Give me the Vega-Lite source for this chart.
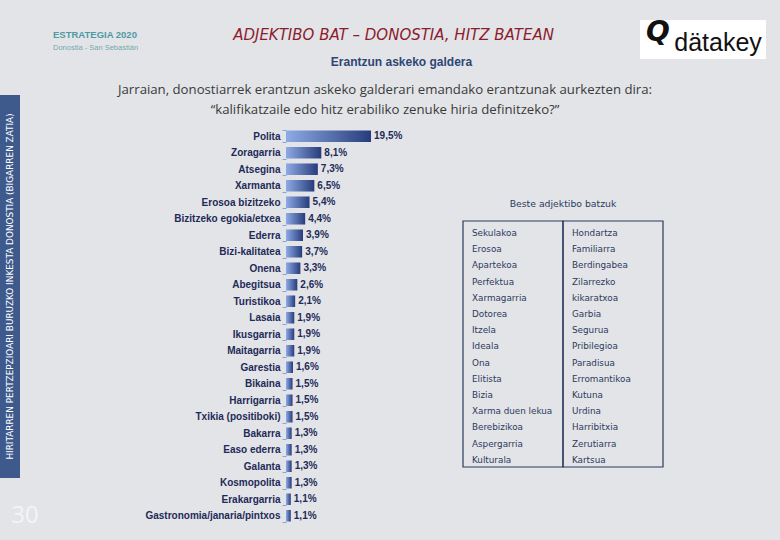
{
  "$schema": "https://vega.github.io/schema/vega-lite/v6.json",
  "background": "#e3e4e7",
  "padding": {"top": 18, "left": 0, "right": 17, "bottom": 16},
  "config": {
    "view": {"stroke": null},
    "locale": {"number": {"decimal": ",", "thousands": ".", "grouping": [3], "currency": ["", " €"]}}
  },
  "spacing": 2,
  "vconcat": [
    {
      "spacing": 0,
      "hconcat": [
        {
          "width": 106,
          "height": 37,
          "data": {"values": [
            {"part": "name", "text": "ESTRATEGIA 2020"},
            {"part": "place", "text": "Donostia - San Sebastián"}
          ]},
          "encoding": {
            "y": {"field": "part", "type": "nominal", "axis": null, "scale": {"domain": ["name", "place"], "padding": 1.556, "align": 0.625}},
            "text": {"field": "text"}
          },
          "layer": [
            {"transform": [{"filter": "datum.part === 'name'"}], "mark": {"type": "text", "align": "left", "font": "Liberation Sans", "fontSize": 9.5, "fontWeight": "bold", "color": "#4e9aa3"}},
            {"transform": [{"filter": "datum.part === 'place'"}], "mark": {"type": "text", "align": "left", "font": "Liberation Sans", "fontSize": 7.5, "color": "#74a9ae"}}
          ]
        },
        {
          "width": 501,
          "height": 50,
          "data": {"values": [
            {"part": "title", "text": "ADJEKTIBO BAT – DONOSTIA, HITZ BATEAN"},
            {"part": "subtitle", "text": "Erantzun askeko galdera"}
          ]},
          "encoding": {
            "y": {"field": "part", "type": "nominal", "axis": null, "scale": {"domain": ["title", "subtitle"], "padding": 0.426, "align": 0.652}},
            "text": {"field": "text"}
          },
          "layer": [
            {"transform": [{"filter": "datum.part === 'title'"}], "mark": {"type": "text", "font": "DejaVu Sans", "fontSize": 15, "fontStyle": "italic", "color": "#8c1c2e", "dx": 4}},
            {"transform": [{"filter": "datum.part === 'subtitle'"}], "mark": {"type": "text", "font": "Liberation Sans", "fontSize": 12, "fontWeight": "bold", "color": "#2e4676", "dx": 12}}
          ]
        },
        {
          "width": 126,
          "height": 39,
          "view": {"fill": "#ffffff", "stroke": null},
          "data": {"values": [
            {"part": "mark", "text": "Q"},
            {"part": "word", "text": "dätakey"}
          ]},
          "encoding": {
            "x": {"field": "part", "type": "nominal", "axis": null, "scale": {"domain": ["mark", "word"], "padding": 0.55, "align": 0.273}},
            "text": {"field": "text"}
          },
          "layer": [
            {"transform": [{"filter": "datum.part === 'mark'"}], "mark": {"type": "text", "font": "DejaVu Sans", "fontSize": 28, "fontWeight": "bold", "fontStyle": "italic", "color": "#111111", "dy": -7}},
            {"transform": [{"filter": "datum.part === 'word'"}], "mark": {"type": "text", "font": "Liberation Sans", "fontSize": 25, "color": "#111111", "dy": 3}}
          ]
        }
      ]
    },
    {
      "spacing": 67,
      "hconcat": [
        {
          "spacing": 2,
          "vconcat": [
            {
              "width": 20,
              "height": 21,
              "data": {"values": [{"t": ""}]},
              "mark": "text",
              "encoding": {"text": {"field": "t"}}
            },
            {
              "width": 20,
              "height": 383,
              "view": {"fill": "#3e5a8d", "stroke": null},
              "data": {"values": [{"label": "HIRITARREN PERTZEPZIOARI BURUZKO INKESTA DONOSTIA (BIGARREN ZATIA)"}]},
              "mark": {"type": "text", "angle": 270, "font": "DejaVu Sans", "fontSize": 8.9, "color": "#ffffff"},
              "encoding": {"text": {"field": "label"}}
            },
            {
              "width": 50,
              "height": 44,
              "data": {"values": [{"page": "30"}]},
              "mark": {"type": "text", "font": "Open Sans", "fontSize": 24, "color": "#f4f4f4", "dy": 14},
              "encoding": {"text": {"field": "page"}}
            }
          ]
        },
        {
          "spacing": 6,
          "vconcat": [
            {
              "width": 198,
              "height": 36,
              "data": {"values": [
                {"text": ["Jarraian, donostiarrek erantzun askeko galderari emandako erantzunak aurkezten dira:", "“kalifikatzaile edo hitz erabiliko zenuke hiria definitzeko?”"]}
              ]},
              "mark": {"type": "text", "font": "Open Sans", "fontSize": 13.2, "lineHeight": 20, "color": "#3a3a3a"},
              "encoding": {"text": {"field": "text"}}
            },
            {
              "spacing": 26,
              "hconcat": [
                {
                  "width": 150,
                  "height": 396,
                  "data": {"values": [
                    {"adjective": "Polita", "share": 0.195},
                    {"adjective": "Zoragarria", "share": 0.081},
                    {"adjective": "Atsegina", "share": 0.073},
                    {"adjective": "Xarmanta", "share": 0.065},
                    {"adjective": "Erosoa bizitzeko", "share": 0.054},
                    {"adjective": "Bizitzeko egokia/etxea", "share": 0.044},
                    {"adjective": "Ederra", "share": 0.039},
                    {"adjective": "Bizi-kalitatea", "share": 0.037},
                    {"adjective": "Onena", "share": 0.033},
                    {"adjective": "Abegitsua", "share": 0.026},
                    {"adjective": "Turistikoa", "share": 0.021},
                    {"adjective": "Lasaia", "share": 0.019},
                    {"adjective": "Ikusgarria", "share": 0.019},
                    {"adjective": "Maitagarria", "share": 0.019},
                    {"adjective": "Garestia", "share": 0.016},
                    {"adjective": "Bikaina", "share": 0.015},
                    {"adjective": "Harrigarria", "share": 0.015},
                    {"adjective": "Txikia (positiboki)", "share": 0.015},
                    {"adjective": "Bakarra", "share": 0.013},
                    {"adjective": "Easo ederra", "share": 0.013},
                    {"adjective": "Galanta", "share": 0.013},
                    {"adjective": "Kosmopolita", "share": 0.013},
                    {"adjective": "Erakargarria", "share": 0.011},
                    {"adjective": "Gastronomia/janaria/pintxos", "share": 0.011}
                  ]},
                  "encoding": {
                    "y": {"field": "adjective", "type": "nominal", "sort": null, "scale": {"paddingInner": 0.3, "paddingOuter": 0.15},
                      "axis": {"title": null, "domain": false, "ticks": true, "tickBand": "extent", "tickColor": "#86a6da", "tickSize": 4, "tickWidth": 1, "labelPadding": 2, "labelFont": "Liberation Sans", "labelFontSize": 10, "labelFontWeight": "bold", "labelColor": "#1e2b58", "labelLimit": 220}},
                    "x": {"field": "share", "type": "quantitative", "scale": {"domain": [0, 0.344], "nice": false}, "axis": null}
                  },
                  "layer": [
                    {"mark": {"type": "bar", "color": {"gradient": "linear", "x1": 0, "y1": 0, "x2": 1, "y2": 0, "stops": [{"offset": 0, "color": "#8eabe6"}, {"offset": 1, "color": "#273c7c"}]}}},
                    {"mark": {"type": "text", "align": "left", "dx": 3, "font": "Liberation Sans", "fontSize": 10, "fontWeight": "bold", "color": "#1e2b58"},
                     "encoding": {"text": {"field": "share", "type": "quantitative", "format": ".1%"}}}
                  ]
                },
                {
                  "spacing": 2,
                  "vconcat": [
                    {
                      "width": 200,
                      "height": 70,
                      "data": {"values": [{"t": ""}]},
                      "mark": "text",
                      "encoding": {"text": {"field": "t"}}
                    },
                    {
                      "width": 200,
                      "height": 246,
                      "title": {"text": "Beste adjektibo batzuk", "font": "DejaVu Sans", "fontSize": 9.3, "fontWeight": "normal", "color": "#2b3a5e", "offset": 11},
                      "layer": [
                        {
                          "data": {"values": [{"col": "A"}, {"col": "B"}]},
                          "mark": {"type": "rect", "fill": "transparent", "stroke": "#2b3a5e", "strokeWidth": 1.2},
                          "encoding": {"x": {"field": "col", "type": "nominal", "axis": null, "scale": {"type": "band", "domain": ["A", "B"], "paddingInner": 0, "paddingOuter": 0}}}
                        },
                        {
                          "data": {"values": [
                            {"col": "A", "row": 1, "word": "Sekulakoa"},
                            {"col": "A", "row": 2, "word": "Erosoa"},
                            {"col": "A", "row": 3, "word": "Apartekoa"},
                            {"col": "A", "row": 4, "word": "Perfektua"},
                            {"col": "A", "row": 5, "word": "Xarmagarria"},
                            {"col": "A", "row": 6, "word": "Dotorea"},
                            {"col": "A", "row": 7, "word": "Itzela"},
                            {"col": "A", "row": 8, "word": "Ideala"},
                            {"col": "A", "row": 9, "word": "Ona"},
                            {"col": "A", "row": 10, "word": "Elitista"},
                            {"col": "A", "row": 11, "word": "Bizia"},
                            {"col": "A", "row": 12, "word": "Xarma duen lekua"},
                            {"col": "A", "row": 13, "word": "Berebizikoa"},
                            {"col": "A", "row": 14, "word": "Aspergarria"},
                            {"col": "A", "row": 15, "word": "Kulturala"},
                            {"col": "B", "row": 1, "word": "Hondartza"},
                            {"col": "B", "row": 2, "word": "Familiarra"},
                            {"col": "B", "row": 3, "word": "Berdingabea"},
                            {"col": "B", "row": 4, "word": "Zilarrezko"},
                            {"col": "B", "row": 5, "word": "kikaratxoa"},
                            {"col": "B", "row": 6, "word": "Garbia"},
                            {"col": "B", "row": 7, "word": "Segurua"},
                            {"col": "B", "row": 8, "word": "Pribilegioa"},
                            {"col": "B", "row": 9, "word": "Paradisua"},
                            {"col": "B", "row": 10, "word": "Erromantikoa"},
                            {"col": "B", "row": 11, "word": "Kutuna"},
                            {"col": "B", "row": 12, "word": "Urdina"},
                            {"col": "B", "row": 13, "word": "Harribitxia"},
                            {"col": "B", "row": 14, "word": "Zerutiarra"},
                            {"col": "B", "row": 15, "word": "Kartsua"}
                          ]},
                          "mark": {"type": "text", "align": "left", "dx": 9, "font": "DejaVu Sans", "fontSize": 8.8, "color": "#2b3a5e"},
                          "encoding": {
                            "x": {"field": "col", "type": "nominal", "bandPosition": 0, "axis": null},
                            "y": {"field": "row", "type": "ordinal", "axis": null, "scale": {"type": "point", "padding": 0.59, "align": 0.625}},
                            "text": {"field": "word"}
                          }
                        }
                      ]
                    }
                  ]
                }
              ]
            }
          ]
        }
      ]
    }
  ]
}
